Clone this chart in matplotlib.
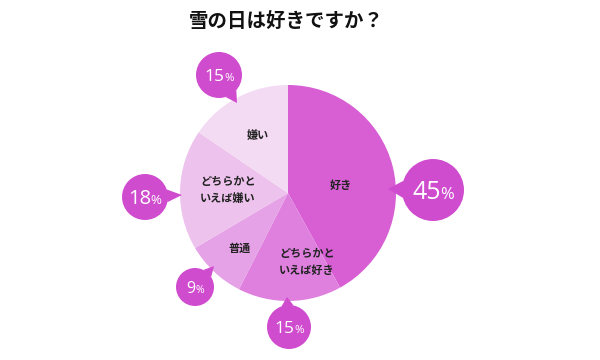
import matplotlib
matplotlib.use("Agg")
import matplotlib.pyplot as plt
import numpy as np
from matplotlib.patches import Circle, Polygon

plt.rcParams['font.family'] = ['Noto Sans CJK JP', 'DejaVu Sans']

# data (clockwise from top)
categories = ['好き', 'どちらかと\nいえば好き', '普通', 'どちらかと\nいえば嫌い', '嫌い']
shares = [42, 15.5, 9, 18, 15.5]          # slice sizes as drawn
pct_labels = ['45', '15', '9', '18', '15']  # printed percentages
colors = ['#d75fd3', '#df80df', '#e5a2e6', '#edc3ed', '#f4dbf4']
bubble_color = '#d04ccf'

fig = plt.figure(figsize=(6, 3.6), dpi=100)
ax = fig.add_axes([0, 0, 1, 1])

H = 360
cx, cy, r = 288, H - 193, 108

wedges, _ = ax.pie(shares, colors=colors, startangle=90, counterclock=False,
                   center=(cx, cy), radius=r, wedgeprops=dict(linewidth=0))
ax.set_xlim(0, 600)
ax.set_ylim(0, 360)
ax.set_aspect('equal')
ax.axis('off')

# slice labels (image pixel positions)
label_pos = [(341, 185), (307, 262), (240, 248), (228, 190), (258, 135)]
for name, (x, y) in zip(categories, label_pos):
    ax.text(x, H - y, name, ha='center', va='center', fontsize=8,
            fontweight='bold', color='#222222', linespacing=1.45)

# speech bubbles: center, radius, pointer tip, font size
bubbles = [
    ((433, 190), 31, (388, 189), 18),
    ((289, 327), 22, (287, 297), 12.5),
    ((195, 287), 19, (214, 266), 11.5),
    ((145, 197), 23, (182, 195), 14.5),
    ((219, 75), 23, (237, 103), 12.5),
]

pct_font = ['Open Sans', 'DejaVu Sans']
for pct, ((bx, by), br, (tx, ty), fs) in zip(pct_labels, bubbles):
    by, ty = H - by, H - ty
    ax.add_patch(Circle((bx, by), br, color=bubble_color, lw=0, zorder=3))
    ang = np.arctan2(ty - by, tx - bx)
    w = 0.28
    p1 = (bx + br * np.cos(ang + w), by + br * np.sin(ang + w))
    p2 = (bx + br * np.cos(ang - w), by + br * np.sin(ang - w))
    ax.add_patch(Polygon([p1, (tx, ty), p2], closed=True, color=bubble_color,
                         lw=0, zorder=3))
    px = fs * 100 / 72
    num_w = len(pct) * 0.57 * px
    sign_w = 0.66 * px * 0.8
    x0 = bx + (num_w - sign_w) / 2
    base = by - 0.36 * px
    ax.text(x0, base, pct, ha='right', va='baseline', fontsize=fs,
            color='white', family=pct_font, zorder=4)
    ax.text(x0 - 0.02 * px, base, '%', ha='left', va='baseline',
            fontsize=fs * 0.66, color='white', family=pct_font, zorder=4)

ax.text(286, H - 22, '雪の日は好きですか？', ha='center', va='center',
        fontsize=14, fontweight='bold', color='#111111')

fig.savefig('out.png', dpi=100)
